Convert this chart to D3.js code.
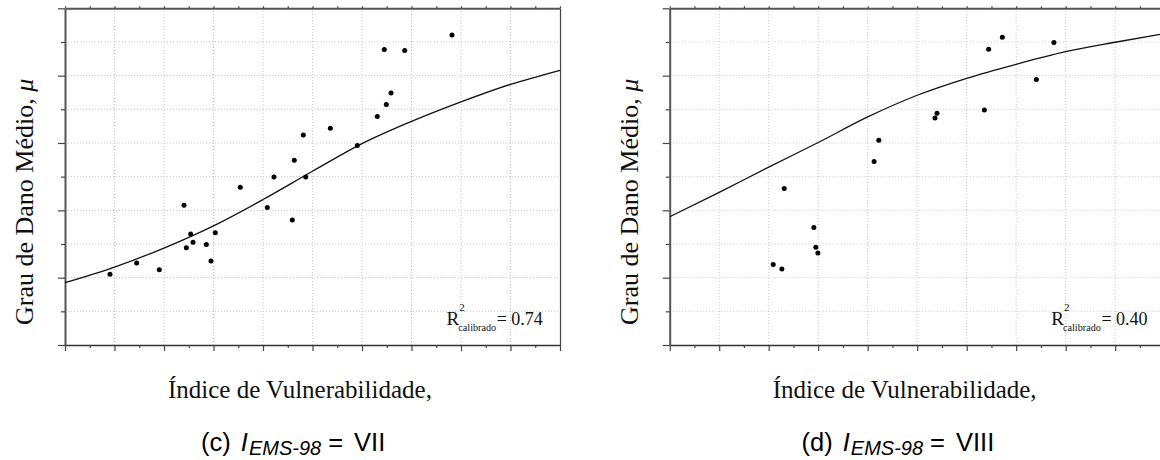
<!DOCTYPE html>
<html><head><meta charset="utf-8">
<script src="https://cdn.jsdelivr.net/npm/d3@7"></script>
<style>
html,body{margin:0;padding:0;background:#fff;}
svg{display:block;}
</style></head>
<body>
<svg id="chart" width="1160" height="460"></svg>
<script>
// ---------- data ----------
const panelLetters = ["(c)", "(d)"];
const intensityLabels = ["VII", "VIII"];
const r2Values = ["0.74", "0.40"];
const xLabel = "Índice de Vulnerabilidade,";
const yLabel = "Grau de Dano Médio, ";
const yLabelSymbol = "μ";

const xMajorTicks = [0,10,20,30,40,50,60,70,80,90,100];
const xMinorTicks = [5,15,25,35,45,55,65,75,85,95];
const yMajorTicks = [0,1,2,3,4,5];
const yMinorTicks = [0.5,1.5,2.5,3.5,4.5];

// panel (c) observed points
const vulnC   = [9.09,14.48,19.05,24.04,24.51,25.39,25.86,28.55,29.49,30.36,35.41,40.87,42.22,45.92,46.32,48.14,48.63,53.6,59.05,63.09,64.5,64.91,65.86,68.63,78.18];
const damageC = [1.049,1.217,1.117,2.077,1.444,1.647,1.524,1.494,1.246,1.666,2.344,2.043,2.493,1.855,2.745,3.120,2.493,3.220,2.963,3.393,4.387,3.571,3.743,4.372,4.604];
// panel (c) calibrated curve
const curveXC = [0,10,20,30,40,50,60,70,80,90,100];
const curveYC = [0.925,1.157,1.44,1.77,2.16,2.58,2.99,3.32,3.61,3.87,4.08];

// panel (d) observed points
const vulnD   = [20.91,22.66,23.13,29.12,29.52,29.93,41.29,42.24,53.6,54.0,63.57,64.44,67.2,74.07,77.62];
const damageD = [1.197,1.128,2.325,1.746,1.450,1.365,2.726,3.042,3.372,3.442,3.491,4.392,4.570,3.942,4.491];
// panel (d) calibrated curve
const curveXD = [0,10,20,30,40,50,60,70,80,90,100];
const curveYD = [1.904,2.266,2.641,3.007,3.387,3.709,3.961,4.169,4.355,4.496,4.625];

// ---------- drawing ----------
const svg = d3.select("#chart");
const SERIF = "'Liberation Serif','Times New Roman',serif";
const SANS = "'Liberation Sans',Arial,sans-serif";

const panels = [
  {x0: 65, vx: vulnC, vy: damageC, cx: curveXC, cy: curveYC},
  {x0: 669.7, vx: vulnD, vy: damageD, cx: curveXD, cy: curveYD}
];
const W = 495, plotTop = 8.3, plotBottom = 345;

panels.forEach((p, i) => {
  const x = d3.scaleLinear().domain([0,100]).range([p.x0, p.x0 + W]);
  const y = d3.scaleLinear().domain([0,5]).range([plotBottom, plotTop]);
  const g = svg.append("g");

  // grid
  g.append("g").selectAll("line").data(yMajorTicks.concat(yMinorTicks).filter(v => v > 0 && v < 5))
    .join("line")
    .attr("x1", x(0)).attr("x2", x(100)).attr("y1", d => y(d)).attr("y2", d => y(d))
    .attr("stroke", "#c8c8c8").attr("stroke-width", 1).attr("stroke-dasharray", "1,2");
  g.append("g").selectAll("line").data(xMajorTicks.filter(v => v > 0 && v < 100))
    .join("line")
    .attr("x1", d => x(d)).attr("x2", d => x(d)).attr("y1", y(0)).attr("y2", y(5))
    .attr("stroke", "#c8c8c8").attr("stroke-width", 1).attr("stroke-dasharray", "1,2");

  // axes
  const axisStyle = sel => {
    sel.select(".domain").attr("stroke", "#555").attr("stroke-width", 2);
    sel.selectAll(".tick line").attr("stroke", "#444").attr("stroke-width", 1.2);
    sel.selectAll("text").remove();
  };
  g.append("g").attr("transform", `translate(0,${plotBottom})`)
    .call(d3.axisBottom(x).tickValues(xMajorTicks).tickSize(6).tickSizeOuter(0).tickFormat(""))
    .call(axisStyle).call(s => s.select(".domain").attr("stroke", "#333").attr("stroke-width", 1.5));
  g.append("g").attr("transform", `translate(0,${plotBottom})`)
    .call(d3.axisBottom(x).tickValues(xMinorTicks).tickSize(3).tickSizeOuter(0).tickFormat(""))
    .call(axisStyle).call(s => s.select(".domain").remove());
  g.append("g").attr("transform", `translate(0,${plotTop})`)
    .call(d3.axisTop(x).tickValues(xMajorTicks.concat(xMinorTicks)).tickSize(2).tickSizeOuter(0).tickFormat(""))
    .call(axisStyle);
  g.append("g").attr("transform", `translate(${p.x0},0)`)
    .call(d3.axisLeft(y).tickValues(yMajorTicks).tickSize(7).tickSizeOuter(0).tickFormat(""))
    .call(axisStyle);
  g.append("g").attr("transform", `translate(${p.x0},0)`)
    .call(d3.axisLeft(y).tickValues(yMinorTicks).tickSize(4).tickSizeOuter(0).tickFormat(""))
    .call(axisStyle).call(s => s.select(".domain").remove());
  g.append("g").attr("transform", `translate(${p.x0 + W},0)`)
    .call(d3.axisRight(y).tickValues([]).tickSizeOuter(0))
    .call(axisStyle).call(s => s.select(".domain").attr("stroke", "#444").attr("stroke-width", 1.2));

  // curve
  const line = d3.line().x(d => x(d[0])).y(d => y(d[1])).curve(d3.curveMonotoneX);
  g.append("path").datum(d3.zip(p.cx, p.cy))
    .attr("d", line).attr("fill", "none").attr("stroke", "#111").attr("stroke-width", 1.3);

  // points
  g.append("g").selectAll("circle").data(d3.zip(p.vx, p.vy)).join("circle")
    .attr("cx", d => x(d[0])).attr("cy", d => y(d[1])).attr("r", 2.5).attr("fill", "#000");

  // R2 annotation
  g.append("text").attr("x", p.x0 + 381.5).attr("y", 324.5)
    .attr("font-family", SERIF).attr("font-size", 19).attr("fill", "#111").text("R");
  g.append("text").attr("x", p.x0 + 394.3).attr("y", 310.5).attr("font-family", SERIF).attr("font-size", 11).attr("fill", "#111").text("2");
  g.append("text").attr("x", p.x0 + 393.3).attr("y", 330.5).attr("font-family", SERIF).attr("font-size", 10.2).attr("fill", "#111").text("calibrado");
  g.append("text").attr("x", p.x0 + 431.7).attr("y", 324.5).attr("font-family", SERIF).attr("font-size", 18).attr("fill", "#111")
    .text("= " + r2Values[i]);

  // x label
  g.append("text").attr("x", p.x0 + 103).attr("y", 398)
    .attr("font-family", SERIF).attr("font-size", 25).attr("fill", "#111").text(xLabel);

  // y label
  const yl = g.append("text")
    .attr("transform", `translate(${p.x0 - 32},325) rotate(-90)`)
    .attr("font-family", SERIF).attr("font-size", 26).attr("fill", "#111");
  yl.append("tspan").text(yLabel);
  yl.append("tspan").attr("font-style", "italic").text(yLabelSymbol);

  // subtitle pieces, laid out in sequence and centred under the panel
  const parts = [
    {t: panelLetters[i], size: 25.5, italic: false, dy: 0, gap: 10},
    {t: "I", size: 25.5, italic: true, dy: 0, gap: 1},
    {t: "EMS-98", size: 20, italic: true, dy: 3.5, gap: 7},
    {t: "=", size: 25.5, italic: false, dy: 0, gap: 11},
    {t: intensityLabels[i], size: 25.5, italic: false, dy: 0, gap: 0}
  ];
  const sg = g.append("g");
  let cursor = 0;
  parts.forEach(pt => {
    const t = sg.append("text").attr("x", cursor).attr("y", 451 + pt.dy)
      .attr("font-family", SANS).attr("font-size", pt.size)
      .attr("font-style", pt.italic ? "italic" : "normal").attr("fill", "#000").text(pt.t);
    cursor += t.node().getComputedTextLength() + pt.gap;
  });
  sg.attr("transform", `translate(${p.x0 + 228.2 - cursor / 2},0)`);
});
</script>
</body></html>
